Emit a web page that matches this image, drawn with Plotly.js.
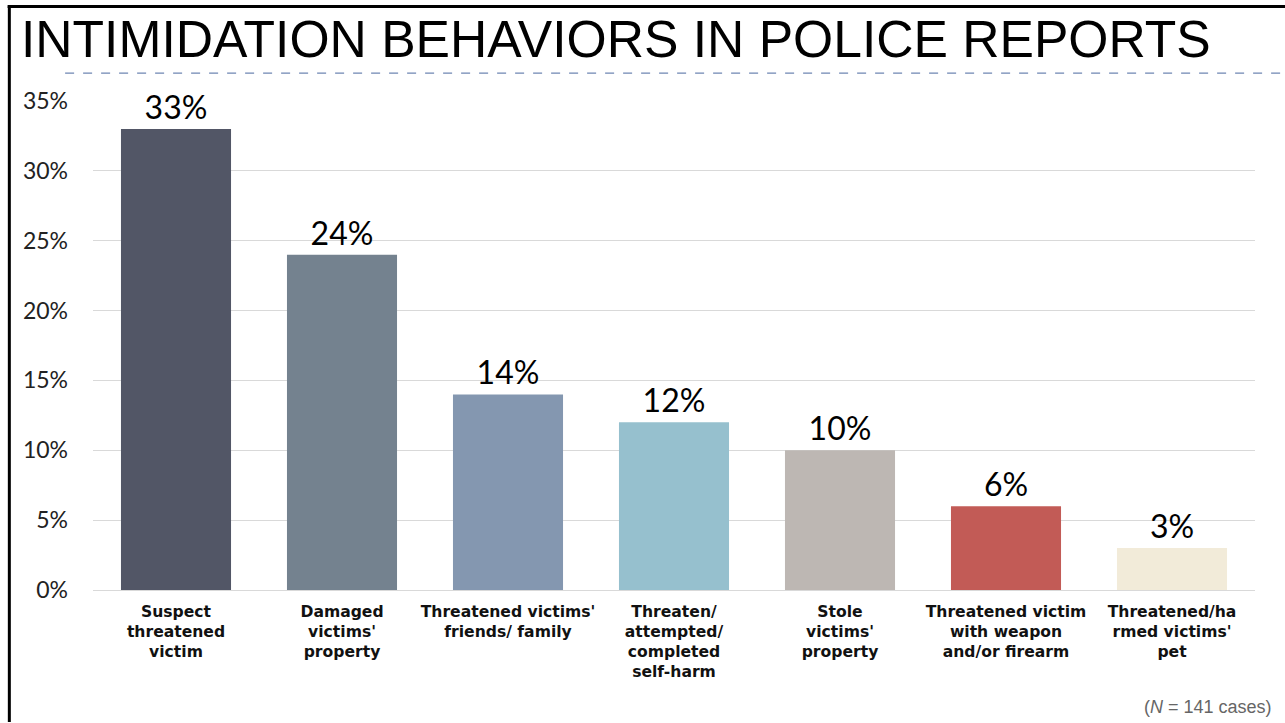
<!DOCTYPE html>
<html><head><meta charset="utf-8">
<script src="https://cdn.plot.ly/plotly-3.0.1.min.js"></script>
<style>body{margin:0;background:#fff}#c{width:1285px;height:723px}</style>
</head><body><div id="c"></div>
<script>
const categories = ["Suspect<br>threatened<br>victim","Damaged<br>victims'<br>property","Threatened victims'<br>friends/ family","Threaten/<br>attempted/<br>completed<br>self-harm","Stole<br>victims'<br>property","Threatened victim<br>with weapon<br>and/or firearm","Threatened/ha<br>rmed victims'<br>pet"];
const values = [33, 24, 14, 12, 10, 6, 3];
const valueLabels = ["33%","24%","14%","12%","10%","6%","3%"];
const colors = ["#525666","#74828f","#8497b0","#96c0ce","#bdb7b3","#c25b56","#f2ebd9"];
const yTicks = [0,5,10,15,20,25,30,35];
const yTickLabels = ["0%","5%","10%","15%","20%","25%","30%","35%"];

const trace = {
  type: "bar", x: categories, y: values, text: valueLabels,
  textposition: "outside", cliponaxis: false,
  textfont: {family: "Lato, sans-serif", size: 32, color: "#000"},
  marker: {color: colors}, hoverinfo: "none"
};
const layout = {
  width: 1285, height: 723,
  margin: {l: 93, r: 30, t: 101, b: 133},
  paper_bgcolor: "#fff", plot_bgcolor: "#fff",
  showlegend: false, bargap: 0.337,
  xaxis: {tickfont: {family: "DejaVu Sans, sans-serif", size: 15.6, color: "#111", weight: "bold"}, showline: false, ticks: "", tickangle: 0, ticklabelstandoff: 10},
  yaxis: {range: [0, 35], tickvals: yTicks, ticktext: yTickLabels, showgrid: true, gridcolor: "#d9d9d9", gridwidth: 1,
          zeroline: true, zerolinecolor: "#d9d9d9", tickfont: {family: "Lato, sans-serif", size: 23, color: "#222"}, ticklabelstandoff: 24},
  shapes: [
    {type: "line", xref: "paper", yref: "paper", x0: -0.024, x1: 1.026, y0: 1.057, y1: 1.057, line: {color: "#6f86b3", width: 1.2, dash: "dash"}},
    {type: "line", xref: "paper", yref: "paper", x0: -0.072, x1: -0.072, y0: 1.194, y1: -0.27, line: {color: "#000", width: 3}},
    {type: "line", xref: "paper", yref: "paper", x0: -0.0735, x1: 1.03, y0: 1.193, y1: 1.193, line: {color: "#000", width: 3}}
  ],
  annotations: [
    {text: "INTIMIDATION BEHAVIORS IN POLICE REPORTS", xref: "paper", yref: "paper", x: -0.064, y: 1.19, xanchor: "left", yanchor: "top",
     showarrow: false, font: {family: "Liberation Sans, Arial, sans-serif", size: 51.6, color: "#000"}},
    {text: "(<i>N</i> = 141 cases)", xref: "paper", yref: "paper", x: 1.016, y: -0.24, xanchor: "right", yanchor: "middle",
     showarrow: false, font: {family: "Liberation Sans, Arial, sans-serif", size: 18, color: "#666"}}
  ]
};
Plotly.newPlot("c", [trace], layout, {displayModeBar: false, staticPlot: true});
</script></body></html>
